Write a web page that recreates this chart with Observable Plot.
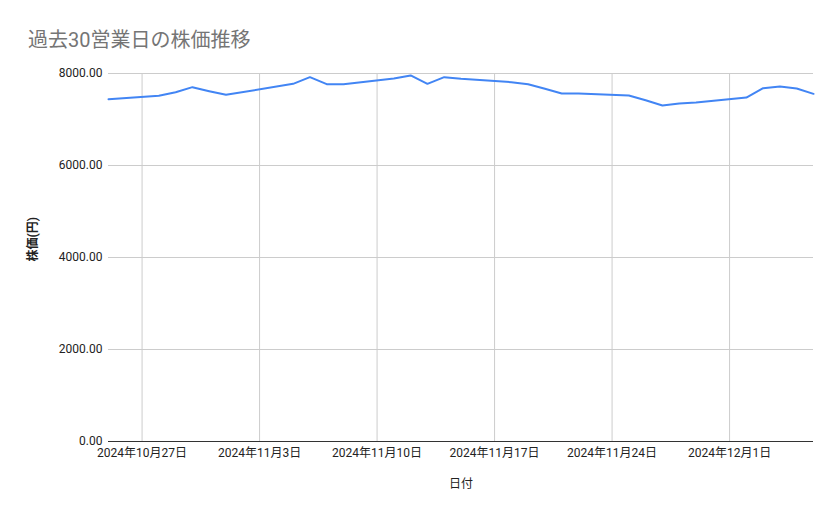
<!DOCTYPE html>
<html>
<head>
<meta charset="utf-8">
<script src="https://cdn.jsdelivr.net/npm/d3@7"></script>
<script src="https://cdn.jsdelivr.net/npm/@observablehq/plot@0.6"></script>
<style>
  html, body { margin: 0; padding: 0; background: #fff; }
  #wrap { position: relative; width: 839px; height: 519px; overflow: hidden; }
  #title { position: absolute; left: 28px; top: 29px; font-family: Roboto, "Noto Sans CJK JP", sans-serif; font-size: 20px; line-height: 22px; color: #757575; white-space: nowrap; }
</style>
</head>
<body>
<div id="wrap">
  <div id="title">過去30営業日の株価推移</div>
</div>
<script>
const dates = [
  "2024-10-25","2024-10-28","2024-10-29","2024-10-30","2024-10-31","2024-11-01",
  "2024-11-05","2024-11-06","2024-11-07","2024-11-08",
  "2024-11-11","2024-11-12","2024-11-13","2024-11-14","2024-11-15",
  "2024-11-18","2024-11-19","2024-11-20","2024-11-21","2024-11-22",
  "2024-11-25","2024-11-26","2024-11-27","2024-11-28","2024-11-29",
  "2024-12-02","2024-12-03","2024-12-04","2024-12-05","2024-12-06"
];
const prices = [
  7441, 7515, 7594, 7703, 7616, 7536,
  7775, 7920, 7768, 7765,
  7890, 7957, 7775, 7920, 7884,
  7812, 7768, 7667, 7565, 7565,
  7522, 7420, 7304, 7348, 7370,
  7478, 7681, 7717, 7674, 7558
];
const xTickDates = ["2024-10-27","2024-11-03","2024-11-10","2024-11-17","2024-11-24","2024-12-01"];
const xTickLabels = ["2024年10月27日","2024年11月3日","2024年11月10日","2024年11月17日","2024年11月24日","2024年12月1日"];
const yTicks = [0, 2000, 4000, 6000, 8000];
const xDomain = ["2024-10-25", "2024-12-06"];
const titleText = "過去30営業日の株価推移";
const xTitle = "日付";
const yTitle = "株価(円)";

const parse = s => new Date(s + "T00:00:00Z");
const data = dates.map((d, i) => ({date: parse(d), value: prices[i]}));
const tickDs = xTickDates.map(parse);
const labelOf = new Map(tickDs.map((d, i) => [+d, xTickLabels[i]]));

const chart = Plot.plot({
  width: 839,
  height: 519,
  marginLeft: 108,
  marginRight: 26,
  marginTop: 73,
  marginBottom: 78,
  style: {fontFamily: 'Roboto, "Noto Sans CJK JP", sans-serif', fontSize: "12px", color: "#222", background: "#fff"},
  x: {type: "utc", domain: xDomain.map(parse)},
  y: {domain: [0, 8000]},
  marks: [
    Plot.gridX(tickDs, {stroke: "#cccccc", strokeOpacity: 1}),
    Plot.gridY(yTicks.filter(v => v > 0), {stroke: "#cccccc", strokeOpacity: 1}),
    Plot.ruleY([0], {stroke: "#333", strokeWidth: 1}),
    Plot.axisY(yTicks, {tickSize: 0, tickPadding: 6, tickFormat: d => d.toFixed(2), label: null, fill: "#222"}),
    Plot.axisX(tickDs, {tickSize: 0, tickPadding: 7, tickFormat: d => labelOf.get(+d), label: null, fill: "#222"}),
    Plot.line(data, {x: "date", y: "value", stroke: "#4285F4", strokeWidth: 2, curve: "linear"}),
    Plot.text([xTitle], {frameAnchor: "bottom", dy: 46, fontSize: 12, fill: "#222"}),
    Plot.text([yTitle], {frameAnchor: "left", dx: -75, dy: 4, rotate: -90, fontSize: 12, fontWeight: "bold", fill: "#222"})
  ]
});
document.getElementById("title").textContent = titleText;
document.getElementById("wrap").insertBefore(chart, document.getElementById("title"));
</script>
</body>
</html>
